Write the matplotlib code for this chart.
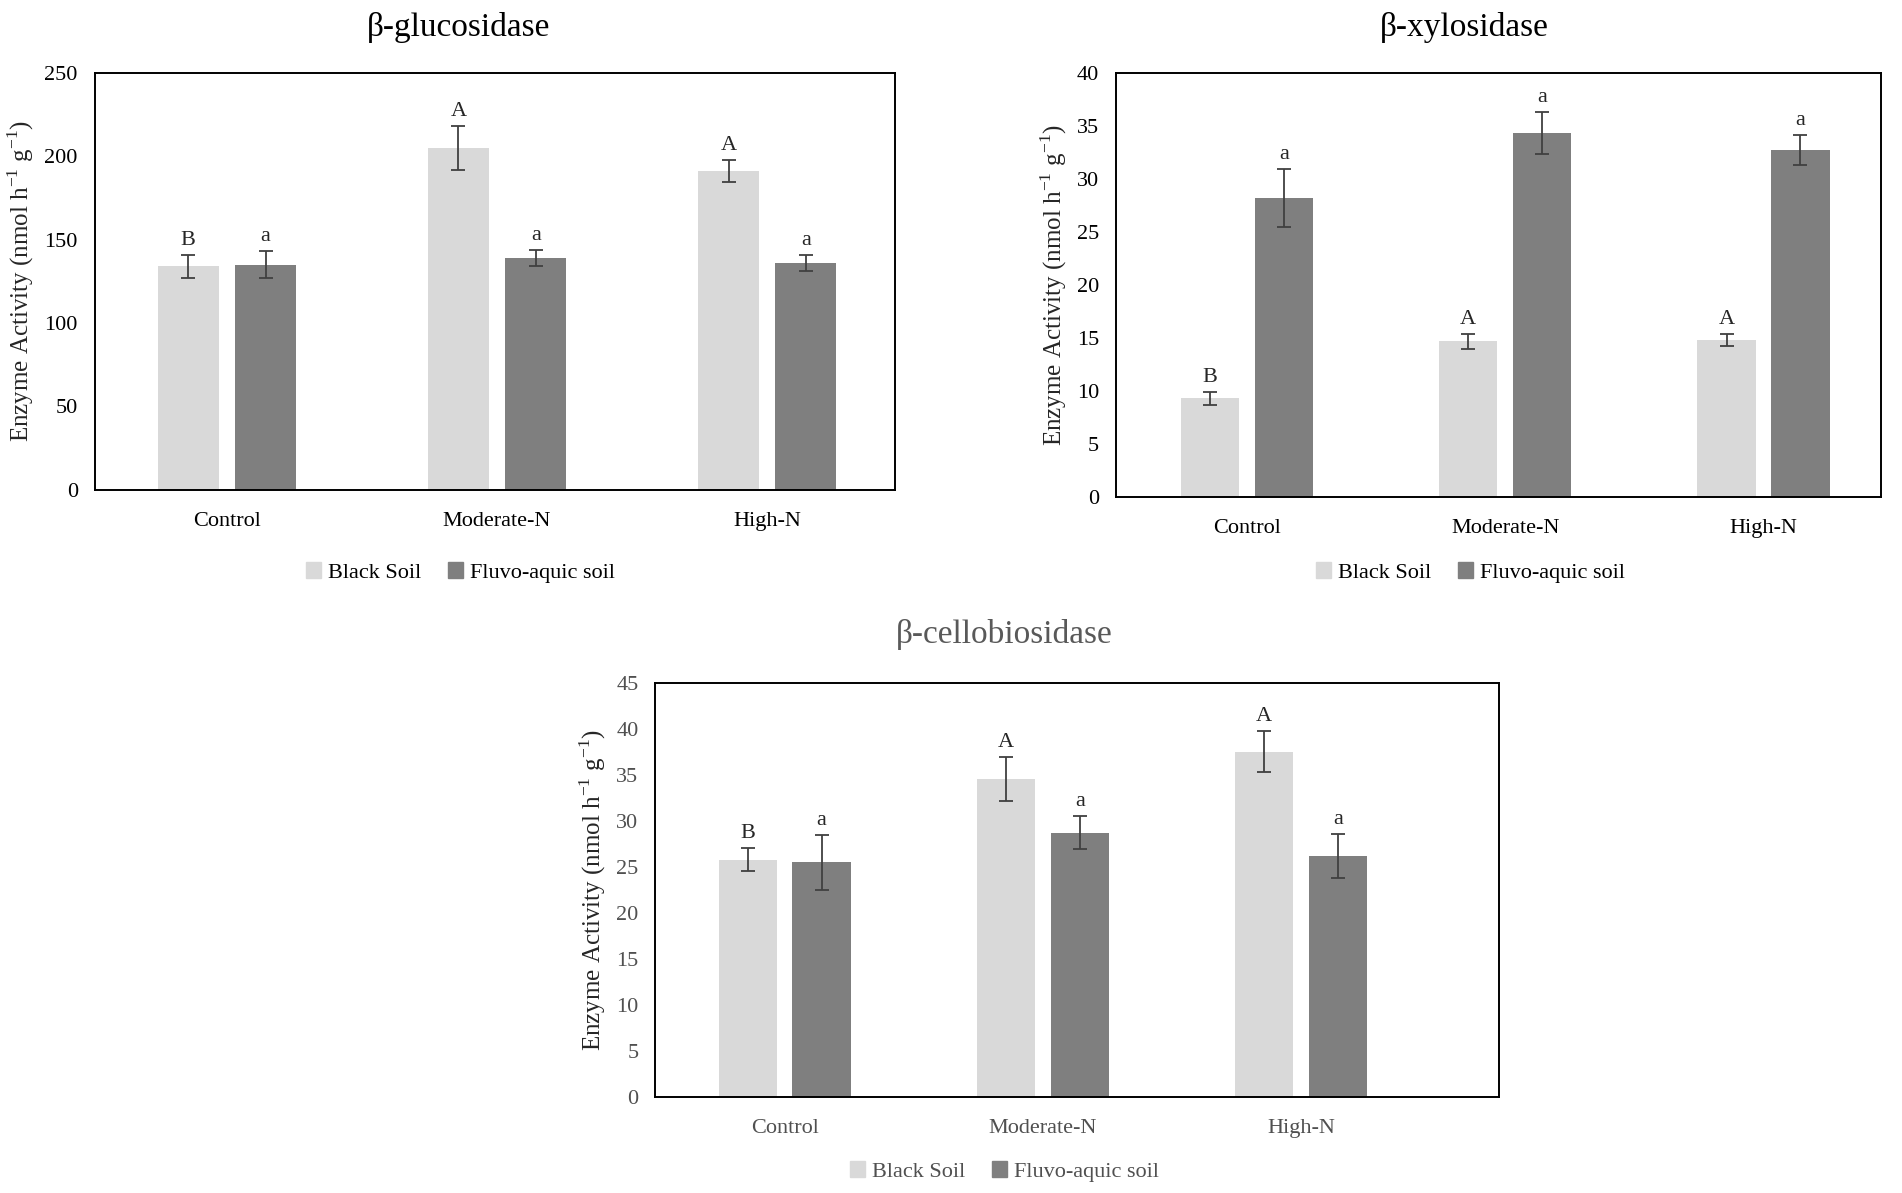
import matplotlib
matplotlib.use("Agg")
import matplotlib.pyplot as plt
from matplotlib.patches import Patch
import numpy as np

plt.rcParams['font.family'] = ['Liberation Serif', 'DejaVu Serif']
plt.rcParams['mathtext.fontset'] = 'custom'
plt.rcParams['mathtext.rm'] = 'Liberation Serif'

treatments = ["Control", "Moderate-N", "High-N"]
soils = ["Black Soil", "Fluvo-aquic soil"]

# beta-glucosidase
glu_black = [134, 205, 191]
glu_black_err = [7, 13, 6.5]
glu_fluvo = [135, 139, 136]
glu_fluvo_err = [8, 5, 5]
glu_black_lett = ["B", "A", "A"]
glu_fluvo_lett = ["a", "a", "a"]

# beta-xylosidase
xyl_black = [9.3, 14.7, 14.8]
xyl_black_err = [0.6, 0.7, 0.6]
xyl_fluvo = [28.2, 34.3, 32.7]
xyl_fluvo_err = [2.7, 2.0, 1.4]
xyl_black_lett = ["B", "A", "A"]
xyl_fluvo_lett = ["a", "a", "a"]

# beta-cellobiosidase
cel_black = [25.8, 34.5, 37.5]
cel_black_err = [1.2, 2.4, 2.2]
cel_fluvo = [25.5, 28.7, 26.2]
cel_fluvo_err = [3.0, 1.8, 2.4]
cel_black_lett = ["B", "A", "A"]
cel_fluvo_lett = ["a", "a", "a"]

light = "#d9d9d9"
dark = "#7f7f7f"
ylab = "Enzyme Activity (nmol h$^{\\mathregular{-1}}$ g$^{\\mathregular{-1}}$)"


def panel(ax, black, black_err, fluvo, fluvo_err, bl, fl, ymax, step, txtcol, xlim):
    x = np.arange(len(treatments))
    w = 0.226
    off = 0.143
    ekw = dict(ecolor="#404040", elinewidth=1.3, capsize=5, capthick=1.3)
    ax.bar(x - off, black, w, color=light, yerr=black_err, error_kw=ekw, zorder=2)
    ax.bar(x + off, fluvo, w, color=dark, yerr=fluvo_err, error_kw=ekw, zorder=2)
    pad = ymax * 0.012
    for i in range(len(x)):
        ax.text(x[i] - off, black[i] + black_err[i] + pad, bl[i], ha="center",
                va="bottom", fontsize=16, color="#262626")
        ax.text(x[i] + off, fluvo[i] + fluvo_err[i] + pad, fl[i], ha="center",
                va="bottom", fontsize=16, color="#262626")
    ax.set_xlim(*xlim)
    ax.set_ylim(0, ymax)
    ax.set_yticks(np.arange(0, ymax + step / 2, step))
    ax.set_xticks(x)
    ax.set_xticklabels(treatments)
    ax.tick_params(length=0, labelsize=16, labelcolor=txtcol, pad=12)
    ax.tick_params(axis="x", pad=16)
    for s in ax.spines.values():
        s.set_linewidth(1.4)
        s.set_color("black")
    ax.set_ylabel(ylab, fontsize=18, color="#262626", labelpad=6)


fig = plt.figure(figsize=(19.02, 11.93), dpi=100)

ax1 = fig.add_axes([0.0497, 0.5894, 0.421, 0.3496])
ax2 = fig.add_axes([0.5867, 0.5833, 0.4023, 0.3557])
ax3 = fig.add_axes([0.3444, 0.0803, 0.4436, 0.3475])

panel(ax1, glu_black, glu_black_err, glu_fluvo, glu_fluvo_err,
      glu_black_lett, glu_fluvo_lett, 250, 50, "black", (-0.49, 2.474))
panel(ax2, xyl_black, xyl_black_err, xyl_fluvo, xyl_fluvo_err,
      xyl_black_lett, xyl_fluvo_lett, 40, 5, "black", (-0.507, 2.455))
panel(ax3, cel_black, cel_black_err, cel_fluvo, cel_fluvo_err,
      cel_black_lett, cel_fluvo_lett, 45, 5, "#505050", (-0.502, 2.765))

fig.text(0.241, 0.977, "β-glucosidase", ha="center", va="center", fontsize=24)
fig.text(0.770, 0.977, "β-xylosidase", ha="center", va="center", fontsize=24)
fig.text(0.528, 0.468, "β-cellobiosidase", ha="center", va="center",
         fontsize=24, color="#595959")

handles = [Patch(color=light), Patch(color=dark)]
for cx, cy, col in [(0.242, 0.52, "black"), (0.773, 0.52, "black"),
                    (0.528, 0.018, "#505050")]:
    fig.legend(handles, soils, loc="center", bbox_to_anchor=(cx, cy), ncol=2,
               frameon=False, fontsize=16, handlelength=0.7, handleheight=0.7,
               handletextpad=0.3, columnspacing=1.2, labelcolor=col)

fig.savefig("out.png", dpi=100)
